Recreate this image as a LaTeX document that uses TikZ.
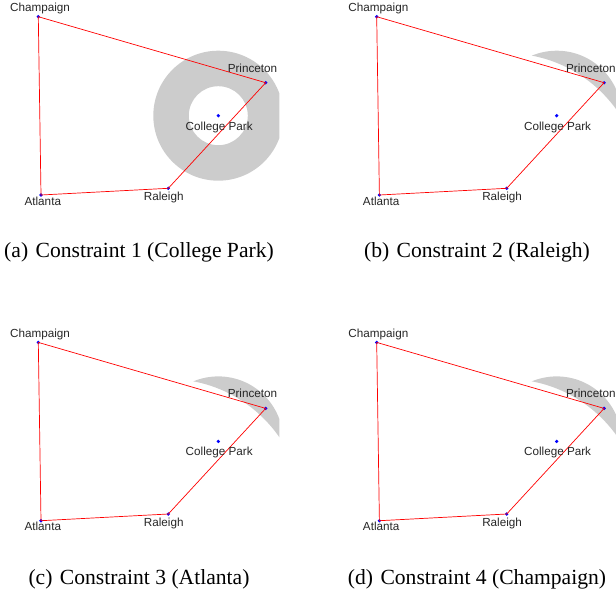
\documentclass[tikz,border=0pt]{standalone}
\usepackage{fontspec}
\setmainfont{Liberation Serif}
\newfontfamily\labelfont{Liberation Sans}
\tikzset{
  zone/.style={fill={rgb,255:red,204;green,204;blue,204}},
  dot/.style={circle, fill=blue, inner sep=0pt, minimum size=3.6pt},
  edge/.style={red, line width=0.7pt},
  lbl/.style={font=\labelfont\fontsize{11.7}{14}\selectfont, text=black!85, anchor=base, inner sep=0pt},
  captext/.style={font=\fontsize{21.6}{26}\selectfont, anchor=base, inner sep=0pt}
}
\newcommand\mappanel[4]{%
\begin{scope}[shift={(#2,#3)}]
  \coordinate (#1c) at (218.3,115.7);
  \coordinate (#1r) at (168.3,188.3);
  \begin{scope}[even odd rule]
    \clip (0,0) rectangle (279.3,230);
    \ifnum#4=1
      \fill[zone] (#1c) circle[radius=65pt] (#1c) circle[radius=29.5pt];
    \else
      \clip (-50,-50) rectangle (400,300) (#1r) circle[radius=135pt];
      \fill[zone] (#1c) circle[radius=65pt];
    \fi
  \end{scope}
  \node[dot] (#1ch) at (38.3,16.7) {};
  \node[dot] (#1pr) at (265.7,82.7) {};
  \node[dot] (#1cp) at (218.3,115.7) {};
  \node[dot] (#1ra) at (168.3,188.3) {};
  \node[dot] (#1at) at (41,195) {};
  \draw[edge] (#1ch.center) -- (#1pr.center) -- (#1ra.center) -- (#1at.center) -- (#1ch.center);
  \node[lbl] (#1lch) at (40,11.5) {Champaign};
  \node[lbl] (#1lpr) at (252.5,72.2) {Princeton};
  \node[lbl] (#1lcp) at (219.2,130.2) {College Park};
  \node[lbl] (#1lra) at (163.7,200.8) {Raleigh};
  \node[lbl] (#1lat) at (42.8,205.2) {Atlanta};
\end{scope}}
\begin{document}
\begin{tikzpicture}[x=1pt,y=-1pt]
\useasboundingbox (0,0) rectangle (616,592);
\mappanel{pa}{0}{0}{1}
\mappanel{pb}{338.4}{0}{2}
\mappanel{pc}{0}{325.7}{2}
\mappanel{pd}{338.4}{325.7}{2}
\node[captext] (capa) at (139,257.7) {(a)\hspace{2pt} Constraint 1 (College Park)};
\node[captext] (capb) at (477,257.7) {(b)\hspace{2pt} Constraint 2 (Raleigh)};
\node[captext] (capc) at (139,584) {(c)\hspace{2pt} Constraint 3 (Atlanta)};
\node[captext] (capd) at (477,584) {(d)\hspace{2pt} Constraint 4 (Champaign)};
\end{tikzpicture}
\end{document}
